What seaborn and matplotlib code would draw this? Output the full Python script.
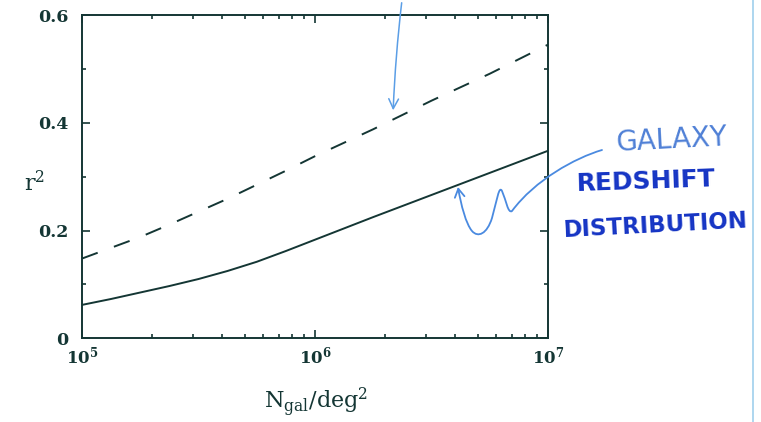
import numpy as np
import pandas as pd
import matplotlib
matplotlib.use("Agg")
import matplotlib.pyplot as plt
import seaborn as sns
from matplotlib.ticker import FixedLocator, FixedFormatter, LogLocator, NullFormatter, MultipleLocator
from matplotlib.patches import FancyArrowPatch
from matplotlib.path import Path
from matplotlib.lines import Line2D

# ---- data ----
log_ngal = [5.0, 5.125, 5.25, 5.375, 5.5, 5.625, 5.75, 5.875, 6.0,
            6.25, 6.5, 6.75, 7.0]
r2_solid = [0.062, 0.073, 0.085, 0.097, 0.110, 0.125, 0.142, 0.162, 0.183,
            0.225, 0.266, 0.307, 0.348]
r2_dashed = [0.148, 0.168, 0.188, 0.211, 0.235, 0.259, 0.285, 0.311, 0.338,
             0.388, 0.441, 0.491, 0.545]
x_major = [1e5, 1e6, 1e7]
x_major_labels = ["$\\mathbf{10^5}$", "$\\mathbf{10^6}$", "$\\mathbf{10^7}$"]
y_major = [0.0, 0.2, 0.4, 0.6]
y_major_labels = ["0", "0.2", "0.4", "0.6"]
note_lines = ["GALAXY", "REDSHIFT", "DISTRIBUTION"]

ngal = [10 ** v for v in log_ngal]
df = pd.DataFrame({
    "N": ngal * 2,
    "r2": r2_solid + r2_dashed,
    "curve": ["solid"] * len(ngal) + ["dashed"] * len(ngal),
})

sns.set_style("ticks")
plt.rcParams["font.family"] = ["DejaVu Serif"]
plt.rcParams["mathtext.fontset"] = "dejavuserif"

ink = "#143634"
W, H = 761, 422
fig = plt.figure(figsize=(W / 100, H / 100), dpi=100)
ax = fig.add_axes([82 / W, 1 - 338.3 / H, 466 / W, 323.3 / H])

lw = 1.4
sns.lineplot(data=df[df.curve == "solid"], x="N", y="r2", ax=ax, color=ink,
             lw=lw, legend=False, errorbar=None)
sns.lineplot(data=df[df.curve == "dashed"], x="N", y="r2", ax=ax, color=ink,
             lw=lw, legend=False, errorbar=None)
ax.lines[1].set_dashes([8.6, 8.9])

ax.set_xscale("log")
ax.set_xlim(1e5, 1e7)
ax.set_ylim(0, 0.6)

ax.xaxis.set_major_locator(FixedLocator(x_major))
ax.xaxis.set_major_formatter(FixedFormatter(x_major_labels))
ax.xaxis.set_minor_locator(LogLocator(base=10, subs=np.arange(2, 10)))
ax.xaxis.set_minor_formatter(NullFormatter())
ax.yaxis.set_major_locator(FixedLocator(y_major))
ax.yaxis.set_major_formatter(FixedFormatter(y_major_labels))
ax.yaxis.set_minor_locator(MultipleLocator(0.1))

for s in ax.spines.values():
    s.set_color(ink)
    s.set_linewidth(1.4)
ax.tick_params(which="both", direction="in", top=True, right=True, colors=ink,
               width=1.2)
ax.tick_params(which="major", length=5.8)
ax.tick_params(which="minor", length=3.2)
ax.tick_params(axis="y", which="major", pad=10, labelsize=12.5)
ax.tick_params(axis="x", which="major", pad=5, labelsize=12)
for t in ax.get_xticklabels() + ax.get_yticklabels():
    t.set_color(ink)
    t.set_fontweight("bold")

ax.set_xlabel(r"N$_{\rm gal}$/deg$^2$", fontsize=16, color=ink)
ax.set_ylabel(r"r$^2$", fontsize=16, color=ink, rotation=0)
ax.xaxis.set_label_coords(0.502, -0.197)
ax.xaxis.label.set_va("center")
ax.yaxis.set_label_coords(-0.101, 0.48)
ax.yaxis.label.set_va("center")
ax.yaxis.label.set_ha("center")

# ---- handwritten annotations ----
def fx(px):
    return px / W

def fy(py):
    return 1 - py / H

fig.text(fx(672), fy(140), note_lines[0], color="#4f80d6", fontsize=20,
         family="DejaVu Sans", ha="center", va="center", rotation=3)
fig.text(fx(646), fy(182), note_lines[1], color="#1534c4", fontsize=18,
         family="DejaVu Sans", weight="bold", ha="center", va="center", rotation=2)
fig.text(fx(656), fy(226), note_lines[2], color="#1534c4", fontsize=16.5,
         family="DejaVu Sans", weight="bold", ha="center", va="center", rotation=3)

# arrow from above to the dashed curve
ax.annotate("", xy=(10 ** 6.335, 0.418), xycoords="data",
            xytext=(fx(402), 1.0), textcoords="figure fraction",
            arrowprops=dict(arrowstyle="->,head_length=0.7,head_width=0.35",
                            color="#5b9ee6", lw=1.1,
                            connectionstyle="arc3,rad=0.02"),
            annotation_clip=False)

# squiggly arrow from the note to the solid curve
pts = [(602, 150),
       (575, 158), (535, 180), (512, 211),
       (508, 214), (506, 200), (502, 191),
       (499, 185), (497, 200), (492, 218),
       (487, 234), (478, 238), (472, 231),
       (466, 224), (461, 205), (458, 187)]
codes = [Path.MOVETO] + [Path.CURVE4] * (len(pts) - 1)
path = Path([(fx(x), fy(y)) for x, y in pts], codes)
arr = FancyArrowPatch(path=path, arrowstyle="->,head_length=6,head_width=3.5",
                      color="#4a8ae0", lw=1.3, transform=fig.transFigure)
fig.add_artist(arr)

# page edge line of the scan
fig.add_artist(Line2D([fx(752.7), fx(752.7)], [0, 1], transform=fig.transFigure,
                      color="#9fd0ec", lw=1.2))

fig.savefig("out.png", dpi=100)
